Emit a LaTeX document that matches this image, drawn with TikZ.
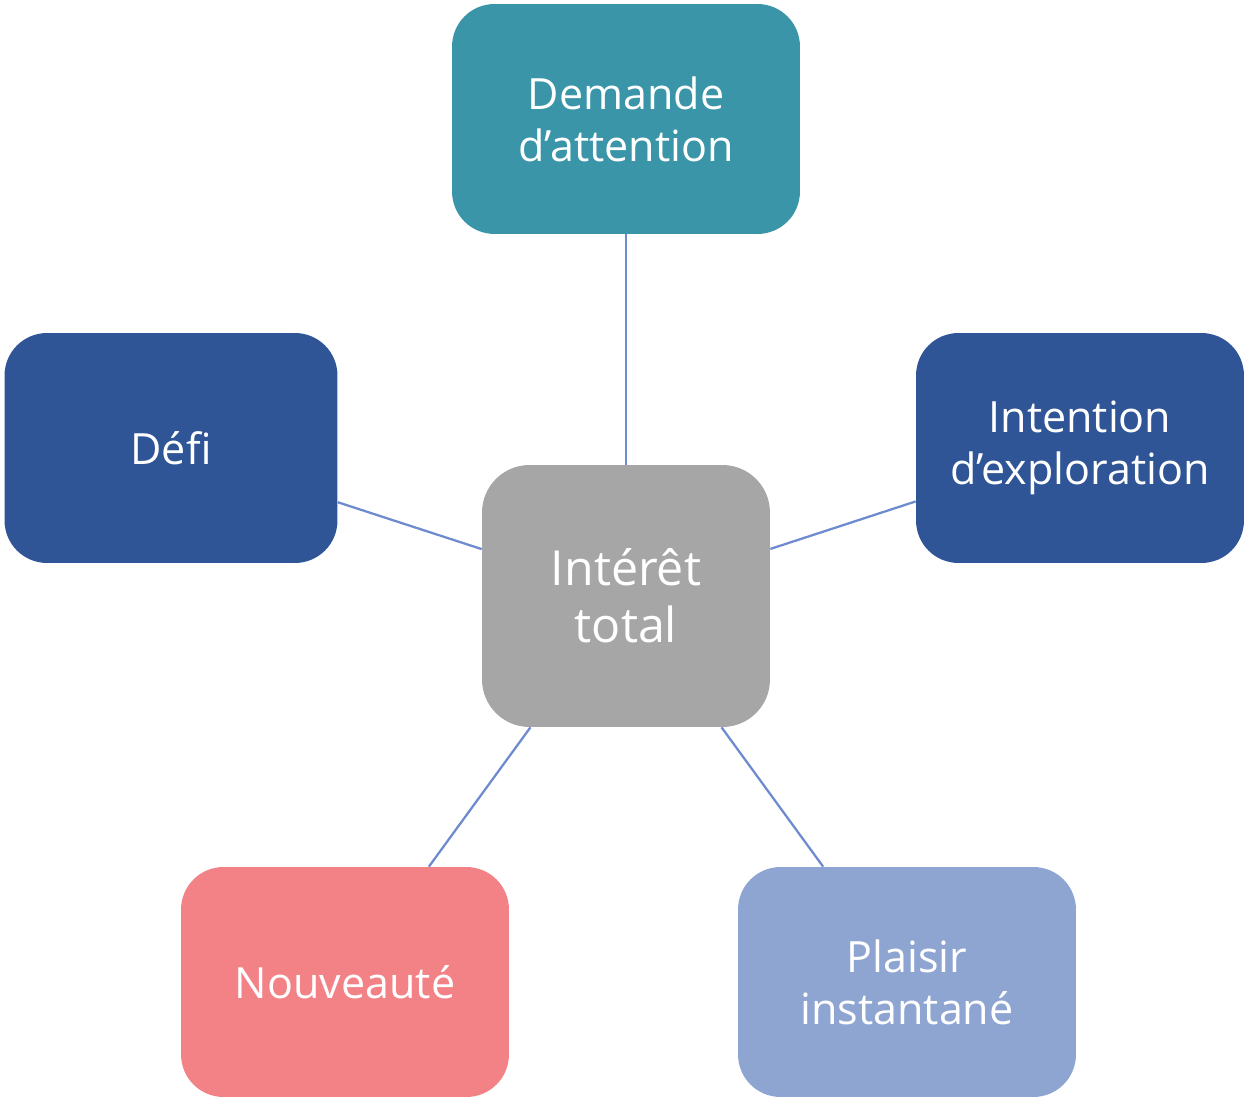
\documentclass[tikz,border=0pt]{standalone}
\usepackage{fontspec}
\setmainfont{Open Sans}
\usetikzlibrary{positioning}

\definecolor{teal}{HTML}{3A95A8}
\definecolor{navy}{HTML}{2F5597}
\definecolor{rose}{HTML}{F28286}
\definecolor{sky}{HTML}{8EA5D2}
\definecolor{grey}{HTML}{A6A6A6}
\definecolor{link}{HTML}{6F8BCF}

\tikzset{
  box/.style={rounded corners=0.85cm, text=white, align=center, inner sep=0pt,
    font=\fontsize{24.5}{29.5}\selectfont, minimum height=4.6cm},
  hub/.style={box, fill=grey, rounded corners=0.95cm, minimum width=5.76cm,
    minimum height=5.24cm, font=\fontsize{27.5}{32.5}\selectfont},
  link/.style={draw=link, line width=1.3pt}
}

\begin{document}
\begin{tikzpicture}[x=0.02cm,y=-0.02cm]
\useasboundingbox (0,0) rectangle (1245,1098);
\node[hub] (total) at (626,596) {Intérêt\\total};
\node[box,fill=teal,minimum width=6.96cm] (demande) at (626,119) {Demande\\d’attention};
\node[box,fill=navy,minimum width=6.66cm] (defi) at (171,448) {Défi};
\node[box,fill=navy,minimum width=6.56cm] (intention) at (1080,448) {Intention\\d’exploration};
\node[box,fill=rose,minimum width=6.56cm] (nouveaute) at (345,982) {Nouveauté};
\node[box,fill=sky,minimum width=6.76cm] (plaisir) at (907,982) {Plaisir\\instantané};
\path[link] (total) -- (demande);
\path[link] (total) -- (defi);
\path[link] (total) -- (intention);
\path[link] (total) -- (nouveaute);
\path[link] (total) -- (plaisir);
\end{tikzpicture}
\end{document}
